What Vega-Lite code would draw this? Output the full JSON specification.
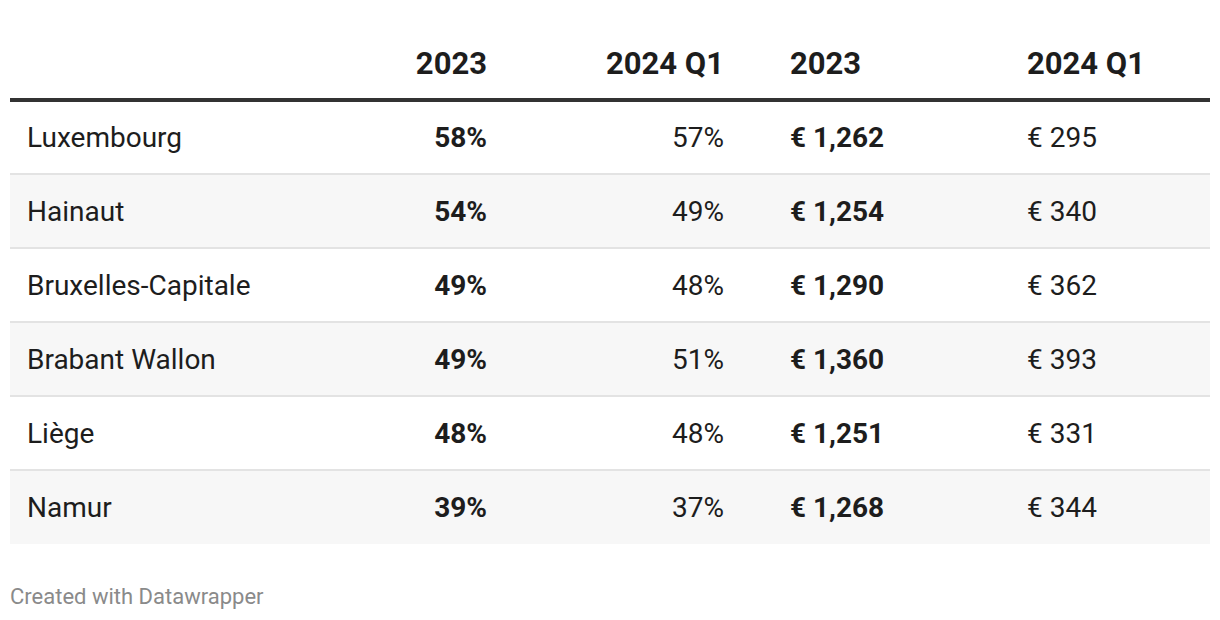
{
  "$schema": "https://vega.github.io/schema/vega-lite/v6.json",
  "width": 1220,
  "height": 620,
  "autosize": {"type": "fit", "contains": "padding"},
  "padding": 0,
  "background": "white",
  "config": {
    "view": {"stroke": null},
    "font": "Roboto",
    "locale": {"number": {"decimal": ".", "thousands": ",", "grouping": [3], "currency": ["€ ", ""]}}
  },
  "data": {
    "values": [
      {"region": "Luxembourg", "pct2023": 0.58, "pct2024q1": 0.57, "eur2023": 1262, "eur2024q1": 295},
      {"region": "Hainaut", "pct2023": 0.54, "pct2024q1": 0.49, "eur2023": 1254, "eur2024q1": 340},
      {"region": "Bruxelles-Capitale", "pct2023": 0.49, "pct2024q1": 0.48, "eur2023": 1290, "eur2024q1": 362},
      {"region": "Brabant Wallon", "pct2023": 0.49, "pct2024q1": 0.51, "eur2023": 1360, "eur2024q1": 393},
      {"region": "Liège", "pct2023": 0.48, "pct2024q1": 0.48, "eur2023": 1251, "eur2024q1": 331},
      {"region": "Namur", "pct2023": 0.39, "pct2024q1": 0.37, "eur2023": 1268, "eur2024q1": 344}
    ]
  },
  "transform": [{"window": [{"op": "row_number", "as": "rowIndex"}]}],
  "encoding": {
    "x": {"type": "quantitative", "scale": {"domain": [0, 1220], "range": [0, 1220], "nice": false, "zero": false}, "axis": null},
    "y": {"field": "region", "type": "nominal", "sort": null, "scale": {"range": [100, 544], "paddingInner": 0, "paddingOuter": 0, "domain": ["Luxembourg", "Hainaut", "Bruxelles-Capitale", "Brabant Wallon", "Liège", "Namur"]}, "axis": null}
  },
  "layer": [
    {
      "transform": [{"filter": "datum.rowIndex % 2 == 0"}],
      "mark": {"type": "rect", "color": "#f7f7f7"},
      "encoding": {
        "x": {"datum": 10, "type": "quantitative"},
        "x2": {"datum": 1210}
      }
    },
    {
      "transform": [{"filter": "datum.rowIndex > 1"}],
      "mark": {"type": "rule", "color": "#e3e3e3", "strokeWidth": 2},
      "encoding": {
        "y": {"field": "region", "type": "nominal", "sort": null, "bandPosition": 0},
        "x": {"datum": 10, "type": "quantitative"},
        "x2": {"datum": 1210}
      }
    },
    {
      "mark": {"type": "text", "align": "left", "baseline": "middle", "dy": 2, "fontSize": 28, "color": "#1d1d1d"},
      "encoding": {
        "x": {"datum": 27, "type": "quantitative"},
        "text": {"field": "region"}
      }
    },
    {
      "mark": {"type": "text", "align": "right", "baseline": "middle", "dy": 2, "fontSize": 28, "fontWeight": "bold", "color": "#1d1d1d"},
      "encoding": {
        "x": {"datum": 487, "type": "quantitative"},
        "text": {"field": "pct2023", "format": ".0%"}
      }
    },
    {
      "mark": {"type": "text", "align": "right", "baseline": "middle", "dy": 2, "fontSize": 28, "color": "#1d1d1d"},
      "encoding": {
        "x": {"datum": 724, "type": "quantitative"},
        "text": {"field": "pct2024q1", "format": ".0%"}
      }
    },
    {
      "mark": {"type": "text", "align": "left", "baseline": "middle", "dy": 2, "fontSize": 28, "fontWeight": "bold", "color": "#1d1d1d"},
      "encoding": {
        "x": {"datum": 790, "type": "quantitative"},
        "text": {"field": "eur2023", "format": "$,.0f"}
      }
    },
    {
      "mark": {"type": "text", "align": "left", "baseline": "middle", "dy": 2, "fontSize": 28, "color": "#1d1d1d"},
      "encoding": {
        "x": {"datum": 1027, "type": "quantitative"},
        "text": {"field": "eur2024q1", "format": "$,.0f"}
      }
    },
    {
      "data": {"values": [{"header": "2023"}]},
      "mark": {"type": "text", "align": "right", "baseline": "middle", "fontSize": 31, "fontWeight": "bold", "color": "#1d1d1d"},
      "encoding": {
        "y": {"value": 65},
        "x": {"datum": 487, "type": "quantitative"},
        "text": {"field": "header"}
      }
    },
    {
      "data": {"values": [{"header": "2024 Q1"}]},
      "mark": {"type": "text", "align": "right", "baseline": "middle", "fontSize": 31, "fontWeight": "bold", "color": "#1d1d1d"},
      "encoding": {
        "y": {"value": 65},
        "x": {"datum": 724, "type": "quantitative"},
        "text": {"field": "header"}
      }
    },
    {
      "data": {"values": [{"header": "2023"}]},
      "mark": {"type": "text", "align": "left", "baseline": "middle", "fontSize": 31, "fontWeight": "bold", "color": "#1d1d1d"},
      "encoding": {
        "y": {"value": 65},
        "x": {"datum": 790, "type": "quantitative"},
        "text": {"field": "header"}
      }
    },
    {
      "data": {"values": [{"header": "2024 Q1"}]},
      "mark": {"type": "text", "align": "left", "baseline": "middle", "fontSize": 31, "fontWeight": "bold", "color": "#1d1d1d"},
      "encoding": {
        "y": {"value": 65},
        "x": {"datum": 1027, "type": "quantitative"},
        "text": {"field": "header"}
      }
    },
    {
      "data": {"values": [{}]},
      "mark": {"type": "rule", "color": "#333333", "strokeWidth": 4},
      "encoding": {
        "y": {"value": 100},
        "x": {"datum": 10, "type": "quantitative"},
        "x2": {"datum": 1210}
      }
    },
    {
      "data": {"values": [{"footer": "Created with Datawrapper"}]},
      "mark": {"type": "text", "align": "left", "baseline": "middle", "fontSize": 22, "color": "#8a8a8a"},
      "encoding": {
        "y": {"value": 597},
        "x": {"datum": 10, "type": "quantitative"},
        "text": {"field": "footer"}
      }
    }
  ]
}
